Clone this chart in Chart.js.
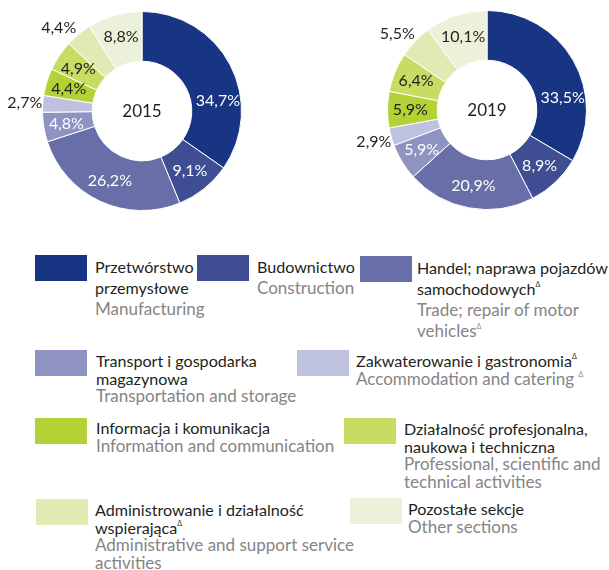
<!DOCTYPE html>
<html>
<head>
<meta charset="utf-8">
<script src="https://cdn.jsdelivr.net/npm/chart.js@4"></script>
<style>
  html, body { margin: 0; padding: 0; background: #fff; }
  body { width: 609px; height: 570px; position: relative; overflow: hidden; font-family: Lato, "Open Sans", sans-serif; }
  canvas { position: absolute; top: 0; }
  .sw { position: absolute; width: 52px; height: 26px; }
  .txt { position: absolute; white-space: nowrap; line-height: 17.5px; }
  .txt .pl { color: #231f20; font-size: 16.1px; }
  .txt .en { color: #858585; font-size: 17px; }
  .txt.first { line-height: 21px; }
  .txt sup { font-size: 7px; vertical-align: 8px; line-height: 0; }
</style>
</head>
<body>
<canvas id="c2015" width="284" height="222" style="left:0"></canvas>
<canvas id="c2019" width="284" height="222" style="left:325px"></canvas>
<div id="legend"></div>
<script>
// data
const sectionsPl = [
  "Przetwórstwo<br>przemysłowe",
  "Budownictwo",
  "Handel; naprawa pojazdów<br>samochodowych<sup>Δ</sup>",
  "Transport i gospodarka<br>magazynowa",
  "Zakwaterowanie i gastronomia<sup>Δ</sup>",
  "Informacja i komunikacja",
  "Działalność profesjonalna,<br>naukowa i techniczna",
  "Administrowanie i działalność<br>wspierająca<sup>Δ</sup>",
  "Pozostałe sekcje"
];
const sectionsEn = [
  "Manufacturing",
  "Construction",
  "Trade; repair of motor<br>vehicles<sup>Δ</sup>",
  "Transportation and storage",
  "Accommodation and catering <sup>Δ</sup>",
  "Information and communication",
  "Professional, scientific and<br>technical activities",
  "Administrative and support service<br>activities",
  "Other sections"
];
const values2015 = [34.7, 9.1, 26.2, 4.8, 2.7, 4.4, 4.9, 4.4, 8.8];
const values2019 = [33.5, 8.9, 20.9, 5.9, 2.9, 5.9, 6.4, 5.5, 10.1];
const colors = ["#183584", "#3f4d92", "#676ea8", "#8f93c2", "#bec2df", "#b2d235", "#c6dc62", "#e0eab2", "#ebf2d9"];

// label styling
const labelColors = ["#fff", "#fff", "#fff", "#fff", "#231f20", "#231f20", "#231f20", "#231f20", "#231f20"];
const outsideLabels = [4, 7];
const labelFraction2015 = [0.66, 0.5, 0.5, 0.5, 0.5, 0.5, 0.5, 0.15, 0.5];
const labelFraction2019 = [0.67, 0.5, 0.5, 0.5, 0.5, 0.5, 0.5, 0.32, 0.5];

// legend layout: [swatchLeft, swatchTop, textLeft, textTop]
const legendPos = [
  [35, 255, 95, 256], [197, 255, 257, 256], [360, 256, 417, 257],
  [35, 350, 96, 352], [297, 350, 356, 352],
  [35, 418, 96, 419], [344, 418, 404, 420],
  [36, 499, 95, 501], [350, 498, 408, 500]
];

const fmt = v => v.toFixed(1).replace(".", ",") + "%";

const sliceLabels = {
  id: "sliceLabels",
  afterDatasetsDraw(chart, args, opts) {
    const ctx = chart.ctx;
    const meta = chart.getDatasetMeta(0);
    const data = chart.data.datasets[0].data;
    ctx.save();
    ctx.font = "16px Lato, 'Open Sans', sans-serif";
    ctx.textAlign = "center";
    ctx.textBaseline = "middle";
    meta.data.forEach((arc, i) => {
      const p = arc.getProps(["x", "y", "startAngle", "endAngle", "innerRadius", "outerRadius"], true);
      const out = outsideLabels.includes(i);
      const a = p.startAngle + (p.endAngle - p.startAngle) * opts.fractions[i];
      const r = out ? p.outerRadius + 18 : (p.innerRadius + p.outerRadius) / 2 + 2;
      ctx.fillStyle = out ? "#231f20" : labelColors[i];
      ctx.fillText(fmt(data[i]), p.x + r * Math.cos(a), p.y + r * Math.sin(a));
    });
    // year in the hole
    const a0 = meta.data[0];
    ctx.fillStyle = "#231f20";
    ctx.font = "17px Lato, 'Open Sans', sans-serif";
    ctx.fillText(opts.title, a0.x, a0.y + 1);
    ctx.restore();
  }
};

function drawDonut(id, values, year, fractions, padding) {
  new Chart(document.getElementById(id), {
    type: "doughnut",
    data: {
      labels: sectionsEn,
      datasets: [{ data: values, backgroundColor: colors, borderColor: "#fff", borderWidth: 1 }]
    },
    options: {
      responsive: false,
      animation: false,
      cutout: "50%",
      layout: { padding },
      plugins: { legend: { display: false }, tooltip: { enabled: false }, sliceLabels: { title: year, fractions } }
    },
    plugins: [sliceLabels]
  });
}

drawDonut("c2015", values2015, "2015", labelFraction2015, { left: 42, right: 42, top: 11, bottom: 11 });
drawDonut("c2019", values2019, "2019", labelFraction2019, { left: 62, right: 22, top: 10, bottom: 12 });

// legend
let html = "";
sectionsPl.forEach((pl, i) => {
  const [sx, sy, tx, ty] = legendPos[i];
  html += `<div class="sw" style="left:${sx}px;top:${sy}px;background:${colors[i]}"></div>`;
  html += `<div class="txt${i < 3 ? " first" : ""}" style="left:${tx}px;top:${ty}px"><span class="pl">${pl}</span><br><span class="en">${sectionsEn[i]}</span></div>`;
});
document.getElementById("legend").innerHTML = html;
</script>
</body>
</html>
